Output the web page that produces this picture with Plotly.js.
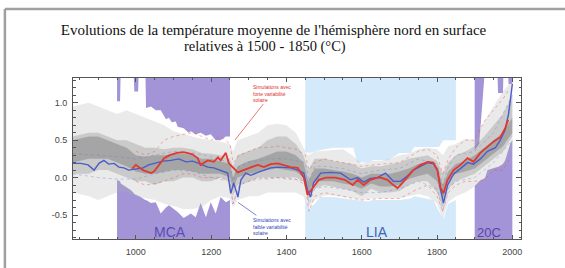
<!DOCTYPE html>
<html><head><meta charset="utf-8">
<script src="https://cdn.plot.ly/plotly-3.0.1.min.js"></script>
<style>html,body{margin:0;padding:0;background:#fff}#chart{width:565px;height:268px}</style>
</head><body><div id="chart"></div>
<script>
// ---- Periods (background shading)
const periodNames = ['MCA', 'LIA', '20C'];
const periodStart = [950, 1450, 1900];
const periodEnd = [1250, 1850, 2000];
const periodColors = ['#a294d6', '#d4e9f9', '#a294d6'];
const periodLabelX = [1090, 1640, 1938];
const periodLabelColors = ['#5a4cb0', '#3f63b8', '#5a44a8'];

// ---- Envelope of reconstructions (white area)
const envYears = [833,945,948,958,960,987,993,996,1006,1008,1013,1025,1027,1040,1053,1066,1080,1088,1095,1106,1111,1127,1140,1146,1159,1172,1186,1199,1212,1225,1239,1250,1300,1350,1400,1440,1450,1460,1475,1490,1525,1578,1588,1616,1630,1670,1700,1730,1740,1790,1805,1817,1830,1850,1875,1897,1912,1920,1928,1934,1960,1962,1975,1977,1981,1988,1990,1995,2000,2023];
const envUpper = [1.0,1.0,1.02,1.02,1.5,1.5,1.5,1.15,1.15,1.5,1.5,1.5,0.93,0.95,0.9,0.9,0.78,0.8,0.74,0.75,0.68,0.66,0.6,0.62,0.58,0.6,0.56,0.58,0.5,0.5,0.55,0.55,0.6,0.7,0.7,0.5,0.35,0.33,0.35,0.37,0.4,0.4,0.2,0.2,0.23,0.23,0.33,0.33,0.41,0.41,0.41,0.5,0.5,0.5,0.55,0.35,0.45,0.9,1.5,1.5,1.5,1.13,1.13,1.5,1.5,1.5,1.25,1.25,1.25,1.25];
const envLower = [-0.3,-0.3,-0.03,-0.05,-0.08,-0.17,-0.2,-0.22,-0.25,-0.25,-0.26,-0.3,-0.3,-0.34,-0.33,-0.48,-0.4,-0.37,-0.4,-0.44,-0.46,-0.54,-0.5,-0.48,-0.53,-0.34,-0.53,-0.33,-0.48,-0.26,-0.33,-0.3,-0.3,-0.3,-0.3,-0.3,-0.3,-0.42,-0.35,-0.26,-0.26,-0.3,-0.3,-0.32,-0.3,-0.3,-0.3,-0.28,-0.25,-0.3,-0.45,-0.55,-0.35,-0.3,-0.25,-0.13,-0.05,-0.03,0.0,0.1,0.14,0.14,0.18,0.2,0.23,0.35,0.4,0.46,0.5,0.5];

// ---- Grey density of reconstructions
const bandYears = [833,875,900,925,950,975,1000,1025,1050,1075,1100,1125,1150,1175,1200,1225,1250,1258,1270,1300,1325,1350,1375,1400,1425,1445,1458,1475,1500,1525,1550,1575,1600,1625,1650,1675,1700,1725,1750,1775,1800,1815,1830,1850,1875,1900,1925,1950,1975,2000];
const outerUpper = [0.95,1.0,0.95,0.9,0.85,0.9,0.85,0.8,0.75,0.7,0.62,0.58,0.55,0.52,0.5,0.48,0.45,0.35,0.5,0.55,0.6,0.7,0.72,0.7,0.6,0.4,0.3,0.35,0.36,0.38,0.38,0.3,0.18,0.22,0.22,0.25,0.3,0.32,0.38,0.4,0.38,0.3,0.42,0.45,0.52,0.5,0.75,0.95,1.15,1.3];
const outerLower = [-0.2,-0.25,-0.3,-0.25,-0.2,-0.2,-0.25,-0.28,-0.3,-0.35,-0.38,-0.42,-0.42,-0.4,-0.3,-0.25,-0.28,-0.4,-0.3,-0.25,-0.25,-0.2,-0.2,-0.2,-0.2,-0.25,-0.42,-0.3,-0.24,-0.24,-0.27,-0.28,-0.3,-0.28,-0.28,-0.28,-0.28,-0.25,-0.22,-0.25,-0.35,-0.55,-0.33,-0.25,-0.2,-0.12,-0.02,0.1,0.15,0.4];
const midUpper = [0.55,0.6,0.6,0.55,0.5,0.5,0.45,0.4,0.4,0.38,0.4,0.4,0.38,0.33,0.32,0.3,0.25,0.15,0.3,0.35,0.4,0.5,0.55,0.55,0.45,0.3,0.1,0.25,0.25,0.22,0.2,0.18,0.12,0.15,0.15,0.18,0.2,0.25,0.28,0.3,0.22,0.05,0.2,0.3,0.35,0.42,0.55,0.7,0.85,1.1];
const midLower = [0.05,0.05,0.1,0.1,0.05,0.0,-0.05,-0.05,-0.1,-0.05,-0.05,0.0,0.0,-0.05,-0.05,0.0,-0.05,-0.25,-0.1,-0.05,0.0,0.0,0.0,0.0,0.0,-0.05,-0.3,-0.15,-0.1,-0.12,-0.15,-0.18,-0.25,-0.15,-0.2,-0.2,-0.18,-0.1,-0.05,-0.05,-0.2,-0.4,-0.15,-0.05,0.0,0.05,0.15,0.25,0.35,0.55];
const coreUpper = [0.5,0.55,0.55,0.5,0.45,0.4,0.3,0.28,0.3,0.3,0.32,0.32,0.3,0.25,0.25,0.22,0.18,0.0,0.15,0.22,0.25,0.3,0.35,0.35,0.3,0.2,-0.05,0.12,0.12,0.1,0.08,0.05,0.0,0.05,0.05,0.05,0.08,0.12,0.18,0.2,0.12,-0.1,0.08,0.18,0.22,0.3,0.4,0.5,0.6,0.8];
const coreLower = [0.2,0.25,0.25,0.25,0.2,0.15,0.08,0.05,0.05,0.08,0.1,0.1,0.08,0.05,0.05,0.05,0.0,-0.15,0.0,0.05,0.08,0.1,0.12,0.1,0.08,0.0,-0.2,-0.05,-0.05,-0.05,-0.08,-0.1,-0.15,-0.08,-0.12,-0.12,-0.1,-0.02,0.02,0.05,-0.05,-0.3,-0.05,0.05,0.08,0.12,0.22,0.32,0.42,0.6];

// ---- Simulation ranges (dotted)
const redDotYears = [1000,1025,1050,1075,1100,1125,1150,1175,1200,1225,1250,1258,1275,1300,1325,1350,1375,1400,1425,1450,1460,1475,1500,1550,1600,1650,1700,1750,1775,1800,1815,1830,1850,1875,1900,1925,1950,1975,1990];
const redDotUpper = [0.35,0.3,0.35,0.5,0.55,0.58,0.6,0.55,0.5,0.55,0.45,0.2,0.3,0.35,0.4,0.4,0.42,0.4,0.38,0.3,0.1,0.2,0.25,0.2,0.15,0.18,0.2,0.35,0.38,0.3,0.05,0.25,0.4,0.5,0.5,0.75,0.9,1.05,1.17];
const redDotLower = [-0.05,-0.1,-0.08,-0.05,0.0,0.05,0.05,0.0,0.0,0.0,-0.05,-0.35,-0.1,-0.05,0.0,-0.02,0.0,-0.02,-0.02,-0.1,-0.45,-0.25,-0.2,-0.25,-0.3,-0.28,-0.28,-0.15,-0.1,-0.25,-0.45,-0.2,-0.1,-0.05,-0.05,-0.03,0.1,0.1,0.23];
const blueDotYears = [833,900,950,1000,1050,1100,1150,1200,1250,1258,1275,1300,1350,1400,1450,1460,1475,1500,1550,1600,1650,1700,1750,1800,1815,1830,1850,1900,1950,2000];
const blueDotUpper = [0.32,0.3,0.28,0.25,0.3,0.35,0.33,0.28,0.2,-0.05,0.15,0.2,0.25,0.25,0.2,-0.05,0.15,0.15,0.12,0.05,0.1,0.12,0.25,0.18,-0.1,0.15,0.3,0.35,0.6,1.1];
const blueDotLower = [0.05,0.0,-0.02,-0.02,0.05,0.1,0.08,0.0,-0.05,-0.35,-0.1,-0.05,0.0,0.0,-0.05,-0.35,-0.15,-0.12,-0.15,-0.2,-0.2,-0.15,-0.05,-0.15,-0.45,-0.15,-0.05,0.0,0.2,0.5];

// ---- Ensemble means
const redYears = [990,1000,1019,1040,1048,1061,1075,1090,1109,1127,1143,1150,1164,1172,1191,1207,1218,1225,1239,1247,1257,1271,1286,1305,1324,1340,1358,1377,1393,1411,1430,1446,1456,1470,1486,1505,1530,1555,1576,1589,1605,1623,1642,1650,1668,1684,1695,1703,1721,1737,1756,1775,1790,1801,1809,1817,1828,1844,1862,1881,1897,1915,1934,1950,1968,1981,1989];
const redVals = [0.12,0.17,0.10,0.06,0.08,0.17,0.26,0.30,0.33,0.34,0.32,0.31,0.26,0.17,0.23,0.21,0.27,0.23,0.33,0.19,0.14,0.07,0.10,0.14,0.17,0.14,0.18,0.19,0.17,0.14,0.13,0.0,-0.23,-0.13,-0.03,0.0,0.0,-0.03,-0.1,-0.03,-0.1,-0.03,0.0,0.0,-0.03,-0.1,-0.14,-0.1,0.0,0.1,0.17,0.21,0.2,0.1,-0.13,-0.21,-0.03,0.1,0.17,0.26,0.21,0.33,0.41,0.48,0.54,0.66,0.77];
const blueYears = [833,854,873,889,902,915,928,942,955,968,981,1000,1019,1034,1053,1072,1093,1114,1133,1151,1167,1191,1207,1225,1244,1252,1260,1271,1279,1292,1305,1324,1340,1358,1377,1393,1411,1430,1446,1456,1464,1472,1491,1517,1544,1570,1589,1605,1623,1642,1663,1684,1703,1721,1737,1756,1775,1790,1801,1809,1817,1828,1844,1862,1881,1897,1915,1934,1955,1968,1981,1990,2000];
const blueVals = [0.19,0.19,0.17,0.10,0.19,0.23,0.18,0.19,0.14,0.13,0.10,0.11,0.13,0.17,0.19,0.22,0.23,0.25,0.21,0.22,0.19,0.14,0.13,0.10,0.06,-0.21,-0.07,-0.26,-0.03,0.06,0.03,0.07,0.10,0.13,0.14,0.14,0.13,0.10,0.06,-0.17,-0.26,-0.07,0.06,0.07,0.06,-0.03,0.0,-0.06,-0.01,0.0,0.06,-0.05,-0.05,0.02,0.1,0.15,0.2,0.18,0.1,-0.15,-0.34,-0.1,0.05,0.12,0.2,0.18,0.25,0.35,0.40,0.5,0.64,0.85,1.25];

// ---- Text
const titleLine1 = "Evolutions de la température moyenne de l'hémisphère nord en surface";
const titleLine2 = "relatives à 1500 - 1850 (°C)";
const redNote = "Simulations avec<br>forte variabilité<br>solaire";
const blueNote = "Simulations avec<br>faible variabilité<br>solaire";
const xTicks = [1000, 1200, 1400, 1600, 1800, 2000];
const yTicks = [-0.5, 0.0, 0.5, 1.0];
const yTickText = ['-0.5', '0.0', '0.5', '1.0'];

function band(xs, up, lo, color) {
  return {x: xs.concat(xs.slice().reverse()), y: up.concat(lo.slice().reverse()),
    type: 'scatter', mode: 'lines', fill: 'toself', fillcolor: color,
    line: {width: 0}, hoverinfo: 'skip', showlegend: false};
}
function line(xs, ys, color, width, dash) {
  return {x: xs, y: ys, type: 'scatter', mode: 'lines',
    line: {color: color, width: width, dash: dash || 'solid', shape: 'linear'},
    hoverinfo: 'skip', showlegend: false};
}

const traces = [
  band(envYears, envUpper, envLower, '#ffffff'),
  band(bandYears, outerUpper, outerLower, 'rgba(175,175,175,0.26)'),
  band(bandYears, midUpper, midLower, 'rgba(120,120,120,0.28)'),
  band(bandYears, coreUpper, coreLower, 'rgba(80,80,80,0.3)'),
  line(blueDotYears, blueDotUpper, 'rgba(100,120,210,0.45)', 0.8, 'dot'),
  line(blueDotYears, blueDotLower, 'rgba(100,120,210,0.45)', 0.8, 'dot'),
  line(redDotYears, redDotUpper, 'rgba(235,80,70,0.55)', 0.8, 'dot'),
  line(redDotYears, redDotLower, 'rgba(235,80,70,0.55)', 0.8, 'dot'),
  line(blueYears, blueVals, '#4a5cc8', 1.4),
  line(redYears, redVals, '#e2382e', 1.8)
];

const shapes = periodStart.map((s, i) => ({
  type: 'rect', xref: 'x', yref: 'paper', x0: s, x1: periodEnd[i], y0: 0, y1: 1,
  fillcolor: periodColors[i], line: {width: 0}, layer: 'below'
}));
// frame of the picture (top and left border)
shapes.push({type: 'line', xref: 'paper', yref: 'paper', x0: -0.152, x1: 1.2, y0: 1.4286, y1: 1.4286, line: {color: '#a0a0a0', width: 2.5}});
shapes.push({type: 'line', xref: 'paper', yref: 'paper', x0: -0.152, x1: -0.152, y0: 1.4286, y1: -0.3, line: {color: '#a0a0a0', width: 2.5}});

const annotations = periodNames.map((n, i) => ({
  text: n, x: periodLabelX[i], y: -0.73, xref: 'x', yref: 'y', showarrow: false,
  font: {family: 'Liberation Sans', size: i === 2 ? 13 : 14, color: periodLabelColors[i]}
}));
annotations.push({text: titleLine2, xref: 'paper', yref: 'paper', x: 0.4275, y: (239 - 46.5) / 161,
  xanchor: 'center', yanchor: 'middle', showarrow: false,
  font: {family: 'Liberation Serif', size: 14.5, color: '#111'}});
annotations.push({text: redNote, x: 1263, y: 0.5, xref: 'x', yref: 'y', ax: 37, ay: -47,
  showarrow: true, arrowhead: 0, arrowwidth: 0.7, arrowcolor: '#e04040', standoff: 0,
  align: 'left', font: {family: 'Liberation Sans', size: 5, color: '#e03030'}});
annotations.push({text: blueNote, x: 1271, y: -0.33, xref: 'x', yref: 'y', ax: 34, ay: 24,
  showarrow: true, arrowhead: 0, arrowwidth: 0.7, arrowcolor: '#4050c0', standoff: 0,
  align: 'left', font: {family: 'Liberation Sans', size: 5, color: '#3040c0'}});

const layout = {
  width: 565, height: 268,
  margin: {l: 73, r: 44, t: 78, b: 29},
  paper_bgcolor: '#ffffff', plot_bgcolor: '#ffffff',
  showlegend: false,
  title: {text: titleLine1, x: 273.5/565, xref: 'container', xanchor: 'center',
    y: 1 - 29.5/268, yref: 'container', yanchor: 'middle',
    font: {family: 'Liberation Serif', size: 15, color: '#111'}},
  xaxis: {range: [833, 2023], tickmode: 'array', tickvals: xTicks, ticktext: xTicks.map(String),
    ticks: 'inside', ticklen: 4, tickcolor: '#555', showline: true, linecolor: '#555', linewidth: 1,
    mirror: 'ticks', showgrid: false, zeroline: false, ticklabelstandoff: 4,
    minor: {tickmode: 'linear', tick0: 1000, dtick: 50, ticks: 'inside', ticklen: 2, tickcolor: '#555'},
    tickfont: {family: 'Liberation Sans', size: 9, color: '#444'}},
  yaxis: {range: [-0.82, 1.33], tickmode: 'array', tickvals: yTicks, ticktext: yTickText,
    ticks: 'inside', ticklen: 5, tickcolor: '#555', showline: true, linecolor: '#555', linewidth: 1,
    mirror: 'ticks', showgrid: false, zeroline: false, ticklabelstandoff: 3,
    minor: {tickmode: 'linear', tick0: 0, dtick: 0.1, ticks: 'inside', ticklen: 2.5, tickcolor: '#555'},
    tickfont: {family: 'Liberation Sans', size: 9, color: '#444'}},
  shapes: shapes,
  annotations: annotations
};

Plotly.newPlot('chart', traces, layout, {staticPlot: true, displayModeBar: false});
</script></body></html>
